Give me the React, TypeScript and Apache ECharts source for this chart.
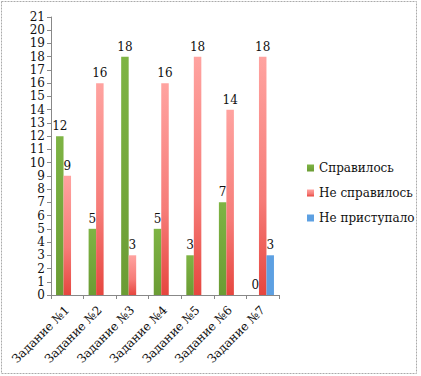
import React, { useEffect, useRef } from "react";
import * as echarts from "echarts";

const categories = ["Задание №1", "Задание №2", "Задание №3", "Задание №4", "Задание №5", "Задание №6", "Задание №7"];
const doneValues = [12, 5, 18, 5, 3, 7, 0];
const failedValues = [9, 16, 3, 16, 18, 14, 18];
const notStartedValues = [null, null, null, null, null, null, 3];
const seriesNames = ["Справилось", "Не справилось", "Не приступало"];

const FONT = "'DejaVu Serif', 'Liberation Serif', serif";

export default function App() {
  const ref = useRef<HTMLDivElement>(null);
  useEffect(() => {
    document.body.style.margin = "0";
    const chart = echarts.init(ref.current!, null, { renderer: "svg" });
    const label = { show: true, position: "top" as const, color: "#111", fontSize: 12, fontFamily: FONT, distance: 4 };
    chart.setOption({
      animation: false,
      backgroundColor: "#fff",
      textStyle: { fontFamily: FONT },
      grid: { left: 51, right: 142, top: 17, bottom: 81, containLabel: false },
      legend: {
        orient: "vertical",
        left: 302,
        top: 157,
        itemWidth: 7,
        itemHeight: 7,
        itemGap: 13,
        icon: "rect",
        textStyle: { fontFamily: FONT, fontSize: 12, color: "#111" },
        data: seriesNames,
      },
      xAxis: {
        type: "category",
        data: categories,
        axisLine: { lineStyle: { color: "#888" } },
        axisTick: { show: true, length: 4, lineStyle: { color: "#888" } },
        axisLabel: { rotate: 45, fontFamily: FONT, fontSize: 12, color: "#111", margin: 13, interval: 0 },
      },
      yAxis: {
        type: "value",
        min: 0,
        max: 21,
        interval: 1,
        splitLine: { show: false },
        axisLine: { show: true, lineStyle: { color: "#888" } },
        axisTick: { show: true, length: 4, lineStyle: { color: "#888" } },
        axisLabel: { fontFamily: FONT, fontSize: 12, color: "#111", margin: 6 },
      },
      series: [
        {
          name: seriesNames[0],
          type: "bar",
          data: doneValues,
          barWidth: 7.5,
          barGap: "0%",
          itemStyle: {
            color: new echarts.graphic.LinearGradient(0, 0, 0, 1, [
              { offset: 0, color: "#7eb444" },
              { offset: 1, color: "#6b9c34" },
            ]),
          },
          label,
        },
        {
          name: seriesNames[1],
          type: "bar",
          data: failedValues,
          barWidth: 7.5,
          barGap: "0%",
          itemStyle: {
            color: new echarts.graphic.LinearGradient(0, 0, 0, 1, [
              { offset: 0, color: "#ffa3a0" },
              { offset: 0.6, color: "#f67c78" },
              { offset: 1, color: "#e6463f" },
            ]),
          },
          label,
        },
        {
          name: seriesNames[2],
          type: "bar",
          data: notStartedValues,
          barWidth: 7.5,
          barGap: "0%",
          itemStyle: { color: "#5da0e2" },
          label,
        },
      ],
      graphic: [
        {
          type: "rect",
          shape: { x: 1.5, y: 1.5, width: 415, height: 372 },
          style: { fill: "none", stroke: "#aaa", lineWidth: 1, lineDash: [2, 1] },
          silent: true,
        },
      ],
    });
    return () => chart.dispose();
  }, []);
  return <div ref={ref} style={{ width: 421, height: 376 }} />;
}
